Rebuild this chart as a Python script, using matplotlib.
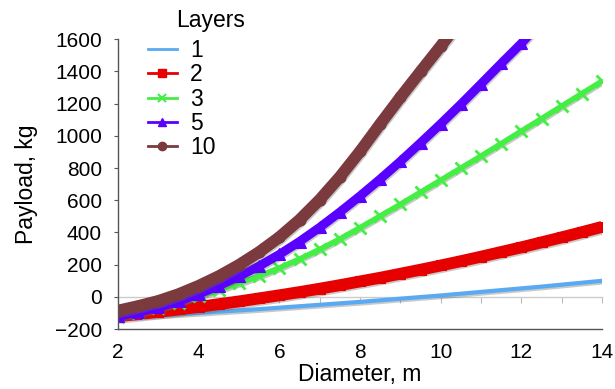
import matplotlib
matplotlib.use("Agg")
import matplotlib.pyplot as plt
import matplotlib.patheffects as pe
from matplotlib.lines import Line2D

plt.rcParams['font.family'] = ['Liberation Sans', 'DejaVu Sans']

# diameter, m
diameter = [2, 2.5, 3, 3.5, 4, 4.5, 5, 5.5, 6, 6.5, 7, 7.5, 8, 8.5, 9, 9.5,
            10, 10.5, 11, 11.5, 12, 12.5, 13, 13.5, 14]

# payload, kg, per number of layers
layers_1 = [-130, -123, -116, -108, -100, -92, -84, -76, -67, -58, -49, -40, -31,
            -21, -11, -1, 9, 20, 31, 42, 53, 64, 76, 88, 100]
layers_2 = [-120, -107, -93, -78, -62, -45, -28, -9, 10, 30, 51, 73, 96,
            119, 144, 169, 195, 222, 250, 279, 308, 339, 370, 402, 435]
layers_3 = [-125, -100, -70, -35, 3, 43, 85, 130, 180, 235, 295, 360, 430,
            502, 575, 650, 725, 800, 875, 952, 1030, 1107, 1185, 1263, 1340]
layers_5 = [-120, -95, -65, -27, 18, 70, 128, 192, 264, 344, 432, 527, 627,
            732, 842, 957, 1075, 1197, 1323, 1450, 1575, 1710]
layers_10 = [-85, -57, -25, 17, 69, 129, 199, 279, 371, 479, 604, 746, 904,
             1074, 1240, 1400, 1558, 1720]

labels = ['1', '2', '3', '5', '10']
colors = ['#5aaaf2', '#e60000', '#44ee44', '#5a00ff', '#7b3a3e']
markers = [None, 's', 'x', '^', 'o']
series = [layers_1, layers_2, layers_3, layers_5, layers_10]
widths = [3, 8.5, 4, 6.5, 8.5]
msizes = [0, 7, 8, 8.5, 8]

fig = plt.figure(figsize=(6.15, 3.89), dpi=100)
ax = fig.add_axes([0.192, 0.154, 0.787, 0.745])

# zero line with small ticks, drawn under the curves
ax2 = ax.twiny()
ax2.set_xlim(2, 14)
ax2.set_xticks(range(2, 15))
ax2.tick_params(axis='x', top=True, labeltop=False, direction='in', length=4,
                color='#bbbbbb', width=0.8)
for s in ['left', 'right', 'bottom']:
    ax2.spines[s].set_visible(False)
ax2.spines['top'].set_position(('data', 0))
ax2.spines['top'].set_color('#cccccc')
ax2.spines['top'].set_linewidth(1)
ax.set_zorder(ax2.get_zorder() + 1)
ax.patch.set_visible(False)

shadow = [pe.SimpleLineShadow(offset=(0.6, -1.2), shadow_color='#666666', alpha=0.35),
          pe.Normal()]

for vals, c, m, lw, ms in zip(series, colors, markers, widths, msizes):
    x = diameter[:len(vals)]
    ax.plot(x, vals, color=c, lw=lw, solid_capstyle='butt', solid_joinstyle='round',
            path_effects=shadow)
    if m is not None:
        ax.plot(x, vals, color=c, lw=0, marker=m, markersize=ms,
                markeredgewidth=2 if m == 'x' else 0.8)

ax.set_xlim(2, 14)
ax.set_ylim(-200, 1600)
ax.set_xticks(range(2, 15, 2))
ax.set_yticks(range(-200, 1601, 200))
ax.set_yticklabels(['\u2212200' if v < 0 else str(v) for v in range(-200, 1601, 200)])
ax.tick_params(axis='y', direction='out', length=3, color='#555555', labelsize=15, pad=8.5)
ax.tick_params(axis='x', length=0, labelsize=15, pad=10)
for s in ['top', 'right']:
    ax.spines[s].set_visible(False)
for s in ['left', 'bottom']:
    ax.spines[s].set_color('#555555')
    ax.spines[s].set_linewidth(1)

ax.set_xlabel('Diameter, m', fontsize=16.5, labelpad=1)
ax.set_ylabel('Payload, kg', fontsize=16.5, labelpad=12)

handles = [Line2D([], [], color=c, lw=2, marker=m, markersize=6,
                  markeredgewidth=1.5 if m == 'x' else 1)
           for c, m in zip(colors, markers)]
fig.legend(handles, labels, loc='upper left', bbox_to_anchor=(0.240, 0.900),
           frameon=False, fontsize=16.5, handlelength=1.3, handletextpad=0.55,
           labelspacing=0.06, borderpad=0, borderaxespad=0)
fig.text(176 / 615, 1 - 20 / 389, 'Layers', fontsize=16.5, va='center', ha='left')

fig.savefig('out.png', dpi=100)
